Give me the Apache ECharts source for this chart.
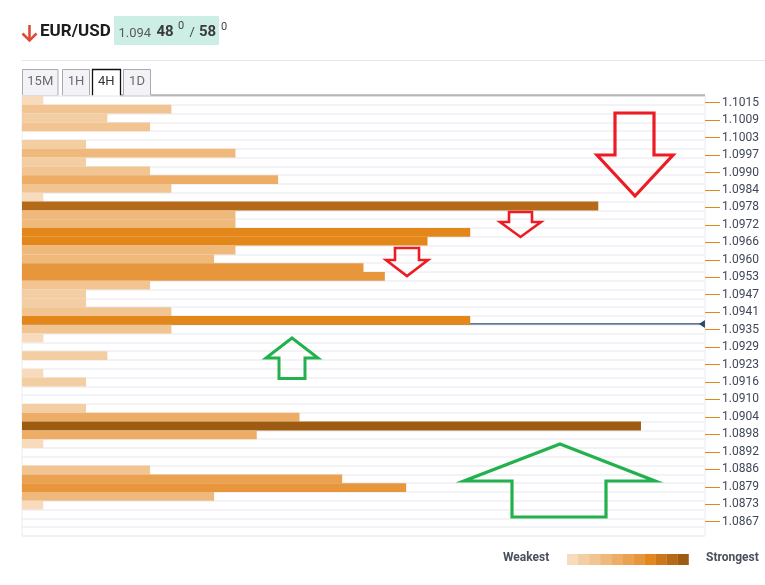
<!DOCTYPE html>
<html><head><meta charset="utf-8">
<script src="https://cdn.jsdelivr.net/npm/echarts@6/dist/echarts.min.js"></script>
<style>html,body{margin:0;padding:0;background:#fff}#c{width:765px;height:585px}</style>
</head><body><div id="c"></div>
<script>
// ---- data ----
const pair = 'EUR/USD';
const bidMain = '1.094', bidPips = '48', bidFrac = '0', askPips = '58', askFrac = '0';
const timeframes = ['15M', '1H', '4H', '1D'];
const activeFrame = '4H';
// confluence strength per price row, top (highest price) to bottom
const strength = [1,7,4,6,0,3,10,3,6,12, 7,1,27,10,10,21,19,10,9,16,
                  17,6,3,3,7,21,7,1,0,4, 0,1,3,0,0,3,13,29,11,1,
                  0,0,6,15,18,9,1,0,0,0];
const priceLabels = ['1.1015','1.1009','1.1003','1.0997','1.0990','1.0984','1.0978','1.0972','1.0966','1.0960',
                     '1.0953','1.0947','1.0941','1.0935','1.0929','1.0923','1.0916','1.0910','1.0904','1.0898',
                     '1.0892','1.0886','1.0879','1.0873','1.0867'];
const currentPriceRow = 25.9; // current price level, in row units
const maxStrength = 32;
const rowIds = strength.map((_, i) => 'L' + i);

// ---- styles ----
const palette = ['#f8dbbd','#f4cea3','#f2c491','#efb97c','#edad67','#eaa251','#e8963b','#e3871a','#cc7818','#b56a19','#9e5c12'];
const levelSteps = [1,4,7,10,13,15,18,21,24,27];
function levelOf(v){ let i=0; while(i<levelSteps.length && v>levelSteps[i]) i++; return i; }

const chart = echarts.init(document.getElementById('c'));
const F = 'Roboto';
const graphics = [];
// header
graphics.push({type:'polyline', shape:{points:[[29.5,25],[29.5,41]]}, style:{stroke:'#e04b36', lineWidth:2.6, fill:null}});
graphics.push({type:'polyline', shape:{points:[[22.5,33.5],[29.5,40.5],[36.5,33.5]]}, style:{stroke:'#e04b36', lineWidth:2.6, fill:null}});
graphics.push({type:'text', x:40, y:31.5, style:{text:pair, font:'bold 17px '+F, fill:'#1c1c1c', verticalAlign:'middle'}});
graphics.push({type:'rect', shape:{x:114, y:16, width:105, height:29}, style:{fill:'#cdeee5'}});
graphics.push({type:'text', x:118.5, y:34, style:{text:bidMain, font:'13px '+F, fill:'#5a5a5a', verticalAlign:'middle'}});
graphics.push({type:'text', x:156.5, y:32.5, style:{text:bidPips, font:'bold 15px '+F, fill:'#3a3a3a', verticalAlign:'middle'}});
graphics.push({type:'text', x:178, y:26, style:{text:bidFrac, font:'11px '+F, fill:'#444', verticalAlign:'middle'}});
graphics.push({type:'text', x:189.5, y:33, style:{text:'/', font:'13px '+F, fill:'#444', verticalAlign:'middle'}});
graphics.push({type:'text', x:199, y:32.5, style:{text:askPips, font:'bold 15px '+F, fill:'#3a3a3a', verticalAlign:'middle'}});
graphics.push({type:'text', x:221, y:27, style:{text:askFrac, font:'11px '+F, fill:'#444', verticalAlign:'middle'}});
graphics.push({type:'line', shape:{x1:22, y1:60.5, x2:765, y2:60.5}, style:{stroke:'#e6e6e6', lineWidth:1}});
// tabs
const tabX = [[22,36.5],[62,28],[92,28.5],[123,28]];
timeframes.forEach((t, i) => {
  const [x, w] = tabX[i];
  if (t === activeFrame) {
    graphics.push({type:'rect', shape:{x:x, y:69, width:w, height:27}, style:{fill:'#fff'}});
    graphics.push({type:'polyline', shape:{points:[[x+0.5,96],[x+0.5,69.5],[x+w,69.5],[x+w,95.5],[705,95.5]]}, style:{stroke:'#111', lineWidth:1.3, fill:null}});
  } else {
    graphics.push({type:'rect', shape:{x:x+0.5, y:69.5, width:w-1, height:26}, style:{fill:'#f3f3f7', stroke:'#a9a9b0', lineWidth:1}});
  }
  graphics.push({type:'text', x:x+w/2, y:82, style:{text:t, font:'13px '+F, fill: t===activeFrame?'#333':'#6b6b6b', align:'center', verticalAlign:'middle'}});
});
// annotation arrows
const redA = {stroke:'#ed1c24', fill:null, lineJoin:'miter'};
const greenA = {stroke:'#22b14c', fill:null, lineJoin:'miter'};
graphics.push({type:'polygon', z:10, shape:{points:[[615,113],[654,113],[654,155],[673,155],[635,196],[597,155],[615,155]]}, style:Object.assign({lineWidth:3.2}, redA)});
graphics.push({type:'polygon', z:10, shape:{points:[[509,212],[532,212],[532,222],[541,222],[520.5,237],[500,222],[509,222]]}, style:Object.assign({lineWidth:2.6}, redA)});
graphics.push({type:'polygon', z:10, shape:{points:[[395,248],[419,248],[419,260],[428,260],[407,276],[386,260],[395,260]]}, style:Object.assign({lineWidth:2.6}, redA)});
graphics.push({type:'polygon', z:10, shape:{points:[[292,338],[318,358],[305,358],[305,378.5],[279,378.5],[279,358],[266,358]]}, style:Object.assign({lineWidth:3}, greenA)});
graphics.push({type:'polygon', z:10, shape:{points:[[560,444],[655,481],[606,481],[606,517],[512,517],[512,481],[464,481]]}, style:Object.assign({lineWidth:3.2}, greenA)});
// legend
graphics.push({type:'text', x:503, y:558, style:{text:'Weakest', font:'bold 12px '+F, fill:'#4a4f5c', verticalAlign:'middle'}});
palette.forEach((c, i) => graphics.push({type:'rect', shape:{x:567+i*11.05, y:554, width:11.3, height:11}, style:{fill:c}}));
graphics.push({type:'text', x:706, y:558, style:{text:'Strongest', font:'bold 12px '+F, fill:'#4a4f5c', verticalAlign:'middle'}});

chart.setOption({
  animation:false,
  textStyle:{fontFamily:F},
  grid:[
    {left:22, top:96, width:683, height:440, show:true, borderColor:'#ececf2', borderWidth:1, backgroundColor:'transparent'},
    {left:704, top:102.7, width:1, height:419}
  ],
  xAxis:[
    {gridIndex:0, type:'value', min:0, max:maxStrength, show:false},
    {gridIndex:1, type:'value', min:0, max:1, show:false}
  ],
  yAxis:[
    {gridIndex:0, type:'category', data:rowIds, inverse:true, axisLine:{show:false}, axisTick:{show:false}, axisLabel:{show:false},
     splitLine:{show:true, interval:0, lineStyle:{color:'#efeff5', width:1.5}}},
    {gridIndex:0, type:'value', min:0, max:strength.length, inverse:true, show:false},
    {gridIndex:1, type:'value', min:0, max:priceLabels.length-1, interval:1, inverse:true, position:'right',
     axisLine:{show:false, onZero:false}, axisTick:{show:true, length:15, lineStyle:{color:'#e3871a', width:1}},
     axisLabel:{margin:17, fontSize:12, color:'#41475a', formatter:v => priceLabels[Math.round(v)]},
     splitLine:{show:false}, splitArea:{show:false}}
  ],
  series:[
    {type:'line', xAxisIndex:0, yAxisIndex:1, z:1, symbol:'none', silent:true,
     data:[[0, currentPriceRow],[maxStrength, currentPriceRow]],
     lineStyle:{color:'#2a4a70', width:1.2},
     markPoint:{silent:true, symbol:'triangle', symbolRotate:90, symbolSize:[8,6], itemStyle:{color:'#2a4a70'}, label:{show:false},
       data:[{coord:[maxStrength*0.9955, currentPriceRow]}]}},
    {type:'bar', xAxisIndex:0, yAxisIndex:0, z:2, silent:true, data:strength, barWidth:'100%', barCategoryGap:0,
     itemStyle:{color:p => palette[levelOf(p.value)]}}
  ],
  graphic:graphics
});
</script></body></html>
